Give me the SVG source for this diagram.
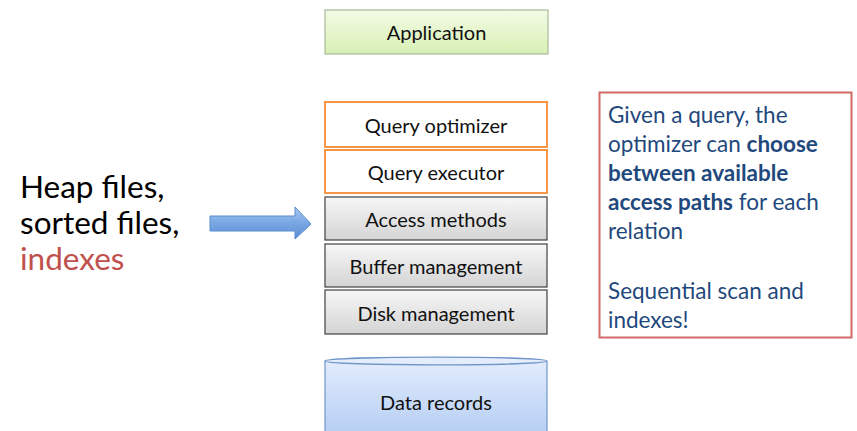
<svg xmlns="http://www.w3.org/2000/svg" width="857" height="431" viewBox="0 0 857 431">
<defs>
<linearGradient id="gGreen" x1="0" y1="0" x2="0" y2="1"><stop offset="0" stop-color="#f3fbe6"/><stop offset="1" stop-color="#d8f0b4"/></linearGradient>
<linearGradient id="gGray" x1="0" y1="0" x2="0" y2="1"><stop offset="0" stop-color="#f7f7f7"/><stop offset="1" stop-color="#d4d4d4"/></linearGradient>
<linearGradient id="gBlue" x1="0" y1="0" x2="0" y2="1"><stop offset="0" stop-color="#e2ecfc"/><stop offset="1" stop-color="#b7cff4"/></linearGradient>
<linearGradient id="gArrow" x1="0" y1="0" x2="0" y2="1"><stop offset="0" stop-color="#a9c8f0"/><stop offset="0.5" stop-color="#79a7e3"/><stop offset="1" stop-color="#5a8fd6"/></linearGradient>
</defs>
<style>
text{font-family:Lato,"Liberation Sans",sans-serif;}
.lbl{font-size:20px;fill:#111;text-anchor:middle;}
.orange{fill:#fff;stroke:#f79646;stroke-width:2;}
.gray{fill:url(#gGray);stroke:#404040;stroke-width:1.2;}
.side{font-size:31.5px;fill:#000;}
.note{font-size:22.5px;fill:#1f497d;}
.b{font-weight:bold;}
</style>
<g id="application">
<rect x="325" y="10" width="223" height="44" fill="url(#gGreen)" stroke="#a9b99a" stroke-width="1.2"/>
<text class="lbl" x="436.5" y="40">Application</text>
</g>
<g id="query-optimizer">
<rect class="orange" x="325" y="102" width="222" height="45"/>
<text class="lbl" x="436" y="133">Query optimizer</text>
</g>
<g id="query-executor">
<rect class="orange" x="325" y="150" width="222" height="43"/>
<text class="lbl" x="436" y="180">Query executor</text>
</g>
<g id="access-methods">
<rect class="gray" x="325" y="197" width="222" height="43"/>
<text class="lbl" x="436" y="227">Access methods</text>
</g>
<g id="buffer-management">
<rect class="gray" x="325" y="244" width="222" height="43"/>
<text class="lbl" x="436" y="274">Buffer management</text>
</g>
<g id="disk-management">
<rect class="gray" x="325" y="290" width="222" height="44"/>
<text class="lbl" x="436" y="321">Disk management</text>
</g>
<g id="data-records">
<path d="M325,361 L325,432 L547,432 L547,361" fill="url(#gBlue)" stroke="#6f95c8" stroke-width="1.2"/>
<ellipse cx="436" cy="361" rx="111" ry="3.8" fill="#e4edfc" stroke="#6f95c8" stroke-width="1.2"/>
<text class="lbl" x="436" y="410">Data records</text>
</g>
<g id="file-types">
<text class="side" x="20" y="198">Heap files,</text>
<text class="side" x="20" y="234">sorted files,</text>
<text class="side" x="20" y="270" style="fill:#c0504d">indexes</text>
</g>
<g id="connectors">
<path d="M210,216 L295,216 L295,207 L311,224 L295,239 L295,231 L210,231 Z" fill="url(#gArrow)" stroke="#5b8ccf" stroke-width="1"/>
</g>
<g id="note">
<rect x="599.5" y="92.5" width="252" height="245" fill="#fff" stroke="#cf6a66" stroke-width="2"/>
<text class="note" x="608" y="123">Given a query, the</text>
<text class="note" x="608" y="152">optimizer can <tspan class="b">choose</tspan></text>
<text class="note b" x="608" y="181">between available</text>
<text class="note" x="608" y="210"><tspan class="b">access paths</tspan> for each</text>
<text class="note" x="608" y="239">relation</text>
<text class="note" x="608" y="299">Sequential scan and</text>
<text class="note" x="608" y="328">indexes!</text>
</g>
</svg>
